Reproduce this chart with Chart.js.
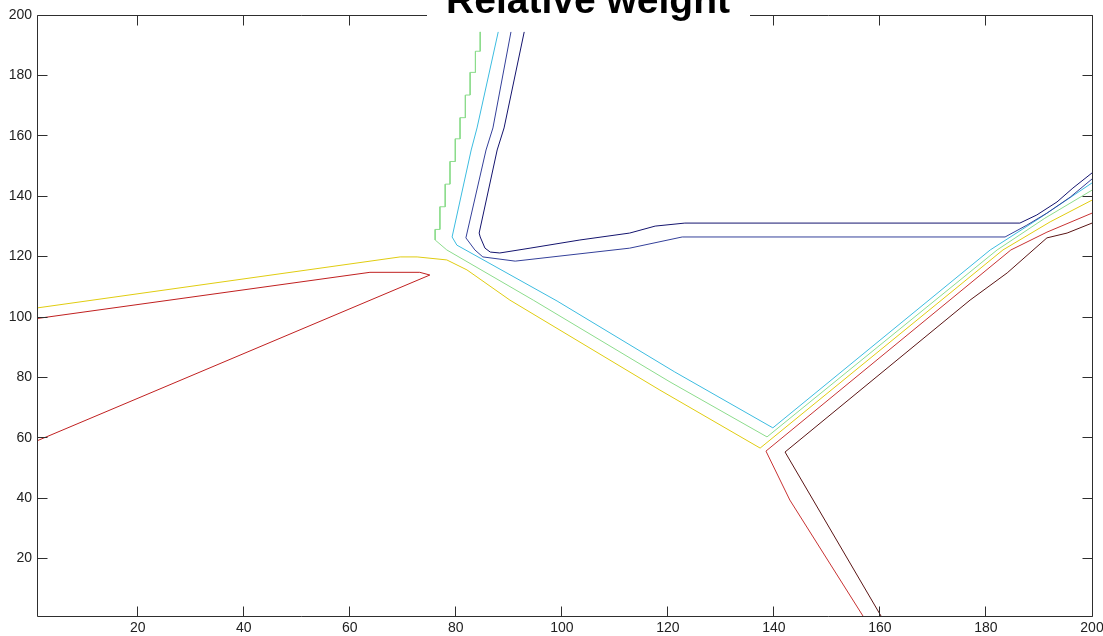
<!DOCTYPE html>
<html>
<head>
<meta charset="utf-8">
<title>Relative weight</title>
<script src="https://cdn.jsdelivr.net/npm/chart.js@4.4.0/dist/chart.umd.min.js"></script>
<style>
  html, body { margin: 0; padding: 0; background: #fff; }
  #wrap { width: 1103px; height: 636px; }
</style>
</head>
<body>
<div id="wrap"><canvas id="weightChart" width="1103" height="636"></canvas></div>
<script>
const xTicks = [20, 40, 60, 80, 100, 120, 140, 160, 180, 200]
const yTicks = [20, 40, 60, 80, 100, 120, 140, 160, 180, 200]

// contour lines, [x, y] pairs
const navyLine = [[92.9,194.4],[89.1,162.6],[87.8,155.3],[84.4,127.8],[84.6,126.5],[85.5,122.8],[86.5,121.5],[88.3,121.2],[94.0,122.8],[103.4,125.5],[112.8,127.8],[117.6,130.1],[123.2,131.1],[186.4,131.1],[189.6,133.8],[193.4,138.1],[196.4,142.7],[200,147.7]]
const blueLine = [[90.4,194.4],[87.0,162.6],[85.7,155.3],[81.9,126.2],[83.6,122.2],[85.1,119.9],[91.2,118.5],[112.8,122.8],[122.7,126.5],[183.6,126.5],[187.7,130.4],[191.5,134.4],[195.9,139.7],[200,145.7]]
const cyanLine = [[88.0,194.4],[84.0,162.6],[82.9,155.3],[79.3,126.5],[80.2,123.8],[99.1,105.3],[121.3,81.8],[139.8,63.3],[180.8,122.2],[190.0,132.6],[200,144.4]]
const greenLine = [[84.6,194.4],[84.6,188],[83.7,188],[83.7,181],[82.7,181],[82.7,173.5],[81.8,173.5],[81.8,166],[80.8,166],[80.8,159],[79.9,159],[79.9,151.5],[78.9,151.5],[78.9,144],[78.0,144],[78.0,136.5],[77.0,136.5],[77.0,129],[76.1,129],[76.1,125.5],[78.3,122.2],[94.6,105.6],[120.4,78.5],[138.7,60.3],[182.1,122.2],[191.1,132.7],[200,142]]
const yellowLine = [[1,103.0],[69.5,119.9],[72.7,119.9],[78.3,118.9],[82.1,115.6],[90.2,105.6],[118.5,75.8],[137.4,56.6],[183.2,122.2],[192.1,131.5],[200,138.7]]
const redLoop = [[1,99.5],[63.8,114.8],[73.2,114.8],[75.1,113.9],[1,59]]
const redLine = [[156.8,1],[143.0,39.4],[138.5,55.6],[184.7,122.2],[191.5,128.1],[200,134.4]]
const maroonLine = [[160.2,1],[142.1,55.3],[177.0,105.6],[184.0,114.6],[191.5,126.2],[195.3,127.8],[200,131.1]]

const lines = [navyLine, blueLine, cyanLine, greenLine, yellowLine, redLoop, redLine, maroonLine]
const lineColors = ['#14146e', '#34409a', '#3cbce0', '#8cdc8c', '#e0cc10', '#c02020', '#c83232', '#5a1414']

const datasets = lines.map((pts, i) => ({
  data: pts.map(p => ({ x: p[0], y: p[1] })),
  borderColor: lineColors[i],
  borderWidth: 1,
  showLine: true,
  fill: false,
  pointRadius: 0,
  tension: 0
}))

// box round the plot, inward ticks on all sides, title on a white patch
const boxPlugin = {
  id: 'boxPlugin',
  afterDraw(chart) {
    const ctx = chart.ctx
    const a = chart.chartArea
    const xs = chart.scales.x
    const ys = chart.scales.y
    const l = Math.floor(a.left) + 0.5
    const r = Math.floor(a.right) + 0.5
    const t = Math.floor(a.top) + 0.5
    const b = Math.floor(a.bottom) + 0.5
    ctx.save()
    ctx.strokeStyle = '#2e2e2e'
    ctx.lineWidth = 1
    ctx.beginPath()
    ctx.rect(l, t, r - l, b - t)
    xTicks.forEach(v => {
      const px = Math.floor(xs.getPixelForValue(v)) + 0.5
      ctx.moveTo(px, b); ctx.lineTo(px, b - 10)
      ctx.moveTo(px, t); ctx.lineTo(px, t + 10)
    })
    yTicks.forEach(v => {
      const py = Math.floor(ys.getPixelForValue(v)) + 0.5
      ctx.moveTo(l, py); ctx.lineTo(l + 10, py)
      ctx.moveTo(r, py); ctx.lineTo(r - 10, py)
    })
    ctx.stroke()

    ctx.fillStyle = '#fff'
    ctx.fillRect(427, 0, 323, 28)
    ctx.fillStyle = '#000'
    ctx.font = 'bold 39px "Liberation Sans", Arial, sans-serif'
    ctx.textAlign = 'center'
    ctx.textBaseline = 'alphabetic'
    ctx.fillText('Relative weight', 588, 13)
    ctx.restore()
  }
}

const tickFont = { family: '"Liberation Sans", Arial, sans-serif', size: 14 }

function noEdgePadding(s) {
  s.paddingLeft = 0
  s.paddingRight = 0
  s.paddingTop = 0
  s.paddingBottom = 0
}

new Chart(document.getElementById('weightChart'), {
  type: 'scatter',
  data: { datasets: datasets },
  options: {
    responsive: false,
    animation: false,
    devicePixelRatio: 1,
    layout: { padding: { top: 15, right: 11, left: 0, bottom: 0 } },
    plugins: {
      legend: { display: false },
      tooltip: { enabled: false },
      title: { display: false }
    },
    scales: {
      x: {
        type: 'linear',
        min: 1,
        max: 200,
        afterBuildTicks: s => { s.ticks = xTicks.map(v => ({ value: v })) },
        afterFit: s => { s.height = 20; noEdgePadding(s) },
        grid: { display: false, drawTicks: false },
        border: { display: false },
        ticks: { color: '#222', font: tickFont, padding: 4, maxRotation: 0, autoSkip: false }
      },
      y: {
        type: 'linear',
        min: 1,
        max: 200,
        afterBuildTicks: s => { s.ticks = yTicks.map(v => ({ value: v })) },
        afterFit: s => { s.width = 37; noEdgePadding(s) },
        grid: { display: false, drawTicks: false },
        border: { display: false },
        ticks: { color: '#222', font: tickFont, padding: 5, autoSkip: false }
      }
    }
  },
  plugins: [boxPlugin]
})
</script>
</body>
</html>
